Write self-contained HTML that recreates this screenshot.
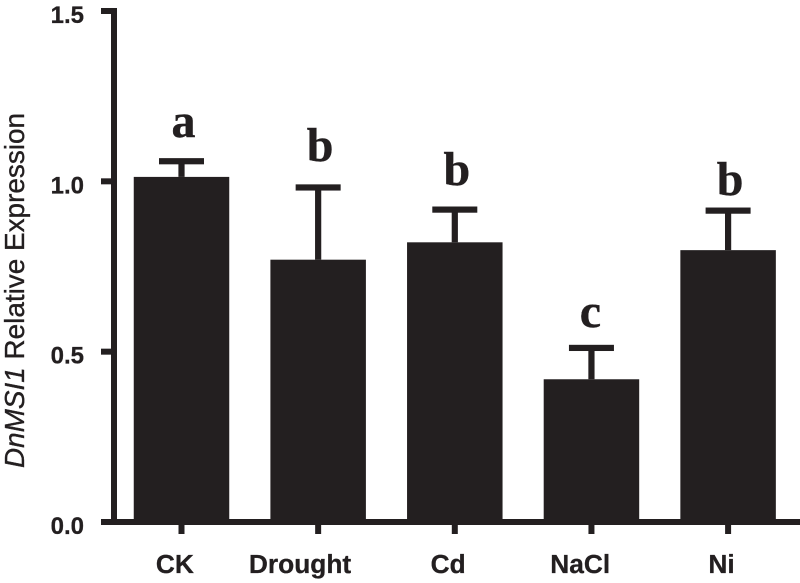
<!DOCTYPE html>
<html>
<head>
<meta charset="utf-8">
<style>
html,body{margin:0;padding:0;background:#fff;width:800px;height:583px;overflow:hidden}
svg{display:block}
text{fill:#231f20}
.sans{font-family:"Liberation Sans",sans-serif;font-weight:700;stroke:#231f20;stroke-width:.3px}
.serif{font-family:"Liberation Serif",serif;font-weight:700;stroke:#231f20;stroke-width:.4px}
</style>
</head>
<body>
<svg id="chart" width="800" height="583" viewBox="0 0 800 583" xmlns="http://www.w3.org/2000/svg">
<text transform="translate(24,468) rotate(-90)" font-family="Liberation Sans, sans-serif" font-size="27.9" style="fill:#231f20;stroke:#231f20;stroke-width:.35px"><tspan font-style="italic">DnMSI1</tspan> Relative Expression</text>
</svg>
<script>
const categories = ['CK', 'Drought', 'Cd', 'NaCl', 'Ni'];
const expression = [1.013, 0.77, 0.821, 0.419, 0.798];
const errorBars = [0.046, 0.212, 0.096, 0.092, 0.116];
const significance = ['a', 'b', 'b', 'c', 'b'];
const significanceLevels = [1.13, 1.06, 0.989, 0.573, 0.96];
const yTicks = [0, 0.5, 1, 1.5];
const yTickLabels = ['0.0', '0.5', '1.0', '1.5'];

const INK = '#231f20';
const svg = document.getElementById('chart');
const NS = 'http://www.w3.org/2000/svg';
const yScale = v => 522 - v * 340.67;
const xScale = i => 181.5 + i * 136.65;
const BAR_W = 95.5;
const CAP_W = 45;
const STROKE = 6.2;

function rect(x, y, w, h) {
  const r = document.createElementNS(NS, 'rect');
  r.setAttribute('x', x);
  r.setAttribute('y', y);
  r.setAttribute('width', w);
  r.setAttribute('height', h);
  r.setAttribute('fill', INK);
  svg.appendChild(r);
  return r;
}
function label(str, x, y, cls, size, anchor) {
  const t = document.createElementNS(NS, 'text');
  t.textContent = str;
  t.setAttribute('x', x);
  t.setAttribute('y', y);
  t.setAttribute('class', cls);
  t.setAttribute('font-size', size);
  t.setAttribute('text-anchor', anchor);
  svg.appendChild(t);
  return t;
}

categories.forEach((c, i) => {
  const cx = xScale(i);
  const top = yScale(expression[i]);
  const errY = yScale(expression[i] + errorBars[i]);

  const bar = rect(cx - BAR_W / 2, top, BAR_W, 522 - top);
  
  

  const stem = rect(cx - STROKE / 2, errY, STROKE, top - errY);
  
  

  const cap = rect(cx - CAP_W / 2, errY - STROKE / 2, CAP_W, STROKE);
  
  

  const tick = rect(cx - 3, 522, 6, 12);
  
  

  // Reference labels sit left of their ticks, more so the longer the label.
  const xl = label(c, cx - 2 - 2.3 * c.length, 573, 'sans', 26.3, 'middle');
  
  

  const sigDx = significance[i] === 'c' ? -1 : 2;
  const sig = label(significance[i], cx + sigDx, yScale(significanceLevels[i]), 'serif', 48, 'middle');
  
  
});

const yAxis = rect(111, yScale(1.5) - 3, 6, 522 - yScale(1.5) + 6);



const xAxis = rect(101, 519, 699, 6);



yTicks.forEach((v, i) => {
  const y = yScale(v);
  const tick = rect(101, y - 3, 12, 6);
  
  

  const yl = label(yTickLabels[i], 84, y + 12, 'sans', 24, 'end');
  
  
});
</script>
</body>
</html>
